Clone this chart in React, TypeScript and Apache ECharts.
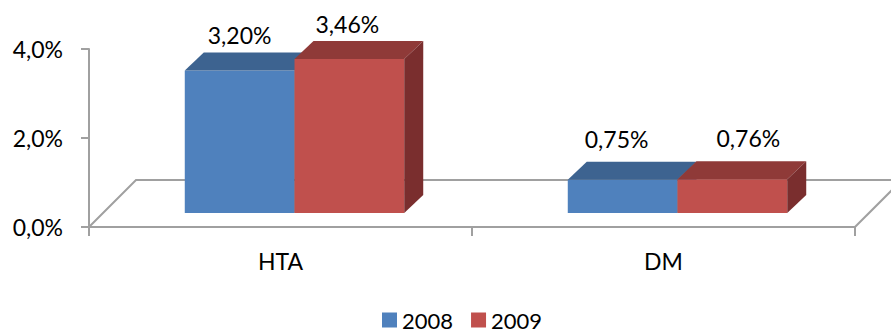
import { useEffect, useRef } from "react";
import * as echarts from "echarts";

// Categories and yearly rates (in %)
const categories = ["HTA", "DM"];
const years = ["2008", "2009"];
const values2008 = [3.2, 0.75];
const values2009 = [3.46, 0.76];
const yMin = 0;
const yMax = 4;
const yStep = 2;

const seriesValues = [values2008, values2009];

// Face shading per year: front, top, side
const FRONT = ["#4F81BD", "#C0504D"];
const TOP = ["#3D6390", "#8F3A38"];
const SIDE = ["#2F4D72", "#7A2E2E"];

const AXIS_GRAY = "#A0A0A0";
const FONT = "Lato, 'Open Sans', sans-serif";
const FONT_SIZE = 23;

// 3D projection offsets (pixels)
const FLOOR_DX = 47;
const FLOOR_DY = 47;
const BAR_SHIFT_X = 14; // bars stand partway into the floor
const BAR_SHIFT_Y = 14;
const BAR_DX = 19; // depth of each box
const BAR_DY = 18;
const BAR_WIDTH_RATIO = 0.2865;

// Small nudges for value labels: [category][series] => [dx, lift]
const labelNudge = [
  [[0, 18], [-2, 17]],
  [[-6, 23], [16, 23]],
];

const fmtPct = (v: number, digits: number) => v.toFixed(digits).replace(".", ",") + "%";

export default function App() {
  const ref = useRef<HTMLDivElement>(null);

  useEffect(() => {
    if (!ref.current) return;
    const chart = echarts.init(ref.current, undefined, { renderer: "svg" });

    const renderFloor = (params: any, api: any) => {
      const cs = params.coordSys;
      const x0 = cs.x;
      const x1 = cs.x + cs.width;
      const yb = cs.y + cs.height;
      const lineStyle = { stroke: AXIS_GRAY, lineWidth: 2, fill: null };
      return {
        type: "group",
        children: [
          {
            type: "polyline",
            shape: {
              points: [
                [x0, yb],
                [x0 + FLOOR_DX, yb - FLOOR_DY],
                [x1 + FLOOR_DX, yb - FLOOR_DY],
              ],
            },
            style: lineStyle,
          },
          {
            type: "line",
            shape: { x1: x1, y1: yb, x2: x1 + FLOOR_DX, y2: yb - FLOOR_DY },
            style: lineStyle,
          },
        ],
      };
    };

    const renderBar = (s: number) => (params: any, api: any) => {
      const cat = api.value(0);
      const val = api.value(1);
      const [cx, y0] = api.coord([cat, 0]);
      const yVal = api.coord([cat, val])[1];
      const band = api.size([1, 0])[0];
      const w = band * BAR_WIDTH_RATIO;
      const L = cx + BAR_SHIFT_X + (s - 1) * w;
      const R = L + w;
      const base = y0 - BAR_SHIFT_Y;
      const top = yVal - BAR_SHIFT_Y;
      const [ndx, lift] = labelNudge[cat][s];
      return {
        type: "group",
        children: [
          {
            type: "rect",
            shape: { x: L, y: top, width: w, height: base - top },
            style: { fill: FRONT[s] },
          },
          {
            type: "polygon",
            shape: {
              points: [
                [L, top],
                [R, top],
                [R + BAR_DX, top - BAR_DY],
                [L + BAR_DX, top - BAR_DY],
              ],
            },
            style: { fill: TOP[s] },
          },
          {
            type: "polygon",
            shape: {
              points: [
                [R, top],
                [R + BAR_DX, top - BAR_DY],
                [R + BAR_DX, base - BAR_DY],
                [R, base],
              ],
            },
            style: { fill: SIDE[s] },
          },
          {
            type: "text",
            style: {
              text: fmtPct(val, 2),
              x: (L + R) / 2 + ndx,
              y: top - BAR_DY - lift,
              align: "center",
              verticalAlign: "middle",
              fontSize: FONT_SIZE,
              fontFamily: FONT,
              fill: "#000000",
            },
          },
        ],
      };
    };

    chart.setOption({
      animation: false,
      backgroundColor: "#ffffff",
      grid: { left: 89, right: 36, top: 49, bottom: 106, containLabel: false },
      legend: {
        data: years,
        left: 382,
        top: 309,
        padding: 0,
        icon: "rect",
        itemWidth: 15,
        itemHeight: 15,
        itemGap: 18,
        textStyle: {
          fontSize: 22,
          fontFamily: FONT,
          color: "#000000",
          lineHeight: 18,
          padding: [0, 0, 0, 0],
        },
      },
      xAxis: {
        type: "category",
        data: categories,
        boundaryGap: true,
        axisLine: { show: true, lineStyle: { color: AXIS_GRAY, width: 2 } },
        axisTick: { show: true, interval: 0, length: 9, lineStyle: { color: AXIS_GRAY, width: 2 } },
        axisLabel: { margin: 22, fontSize: FONT_SIZE, fontFamily: FONT, color: "#000000" },
        splitLine: { show: false },
      },
      yAxis: {
        type: "value",
        min: yMin,
        max: yMax,
        interval: yStep,
        axisLine: { show: true, lineStyle: { color: AXIS_GRAY, width: 2 } },
        axisTick: { show: true, length: 8, lineStyle: { color: AXIS_GRAY, width: 2 } },
        axisLabel: {
          margin: 26,
          fontSize: FONT_SIZE,
          fontFamily: FONT,
          color: "#000000",
          formatter: (v: number) => fmtPct(v, 1),
        },
        splitLine: { show: false },
      },
      series: [
        {
          name: "floor",
          type: "custom",
          z: 1,
          silent: true,
          renderItem: renderFloor,
          data: [[0, 0]],
        },
        ...years.map((y, s) => ({
          name: y,
          type: "custom",
          z: 2 + s,
          itemStyle: { color: FRONT[s] },
          renderItem: renderBar(s),
          encode: { x: 0, y: 1 },
          data: seriesValues[s].map((v, i) => [i, v]),
        })),
      ],
    });

    return () => chart.dispose();
  }, []);

  return (
    <div
      ref={ref}
      style={{ position: "absolute", left: 0, top: 0, width: 891, height: 333 }}
    />
  );
}
